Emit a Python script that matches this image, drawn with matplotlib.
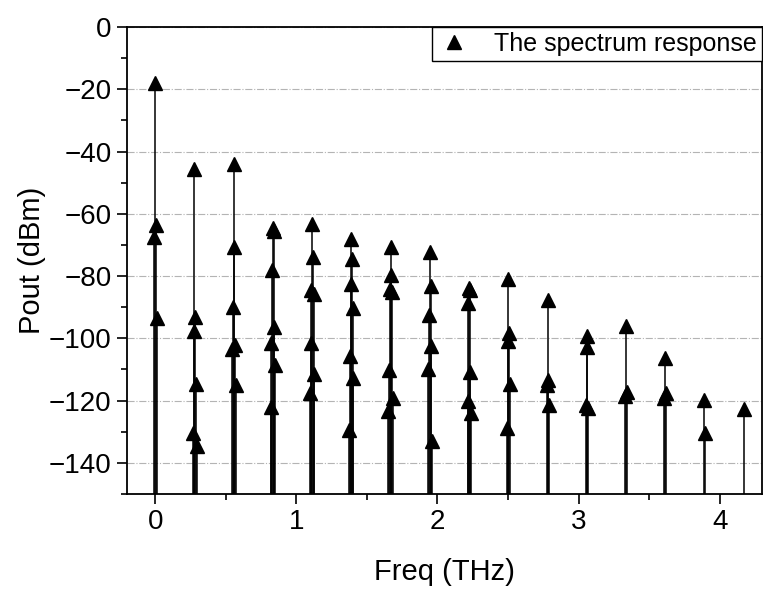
import matplotlib
matplotlib.use("Agg")
import matplotlib.pyplot as plt
from matplotlib.ticker import MultipleLocator

# harmonic frequencies (THz)
freqs = [0.0, 0.278, 0.556, 0.834, 1.112, 1.390, 1.668, 1.946,
         2.224, 2.502, 2.780, 3.058, 3.336, 3.614, 3.892, 4.170]

# output power of the spectral lines grouped at each harmonic (dBm)
levels = [
    [-18.0, -63.5, -67.3, -93.5],
    [-45.7, -93.2, -97.6, -114.7, -130.4, -134.7],
    [-44.0, -70.7, -89.9, -102.0, -103.5, -115.1],
    [-64.5, -65.5, -78.2, -96.4, -101.5, -108.7, -122.0],
    [-63.2, -73.9, -84.6, -85.6, -101.5, -111.3, -117.5],
    [-68.2, -74.4, -82.5, -90.2, -105.7, -112.7, -129.3],
    [-70.7, -79.6, -84.3, -85.2, -110.2, -119.1, -123.2],
    [-72.3, -83.3, -92.6, -102.6, -110.0, -133.0],
    [-83.7, -84.5, -88.5, -110.8, -120.2, -124.0],
    [-81.0, -98.4, -100.7, -114.7, -128.8],
    [-87.7, -113.3, -115.1, -121.5],
    [-99.2, -102.8, -121.5, -122.5],
    [-96.0, -117.1, -118.5],
    [-106.4, -117.6, -119.3],
    [-119.8, -130.3],
    [-122.8],
]

floor = -150
sub_spacing = 0.005  # small spread of the lines around each harmonic

plt.rcParams['font.family'] = ['Liberation Sans', 'DejaVu Sans']

fig = plt.figure(figsize=(7.63, 5.93), dpi=100)
ax = fig.add_axes([0.1664, 0.1669, 0.8323, 0.7876])

xs, ys = [], []
for f, lv in zip(freqs, levels):
    for k, v in enumerate(lv):
        # alternate lines either side of the harmonic
        step = (k + 1) // 2 * (1 if k % 2 else -1)
        xs.append(f + step * sub_spacing)
        ys.append(v)

ax.vlines(xs, floor, ys, colors='black', linewidth=1.1, zorder=2)
ax.plot(xs, ys, linestyle='none', marker='^', color='black',
        markersize=9.5, zorder=3, label='The spectrum response')

ax.set_xlim(-0.2, 4.3)
ax.set_ylim(-150, 0)
ax.xaxis.set_major_locator(MultipleLocator(1))
ax.xaxis.set_minor_locator(MultipleLocator(0.5))
ax.yaxis.set_major_locator(MultipleLocator(20))
ax.yaxis.set_minor_locator(MultipleLocator(10))

ax.grid(axis='y', which='major', linestyle='-.', color='#b4b4b4', linewidth=0.8)
ax.set_axisbelow(True)

ax.tick_params(axis='both', which='major', direction='out', length=7,
               width=1.2, labelsize=20, pad=4)
ax.tick_params(axis='both', which='minor', direction='out', length=4, width=1.2)
ax.tick_params(top=False, right=False, which='both')
for sp in ax.spines.values():
    sp.set_linewidth(1.3)

ax.set_xlabel('Freq (THz)', fontsize=21, labelpad=16)
ax.set_ylabel('Pout (dBm)', fontsize=21, labelpad=2)

leg = ax.legend(loc='upper right', bbox_to_anchor=(1, 1), borderaxespad=0,
                fontsize=18, fancybox=False, framealpha=1, edgecolor='black',
                handletextpad=0.9, borderpad=0.2, handlelength=1.4)
leg.get_frame().set_linewidth(1.0)

fig.savefig('out.png', dpi=100)
